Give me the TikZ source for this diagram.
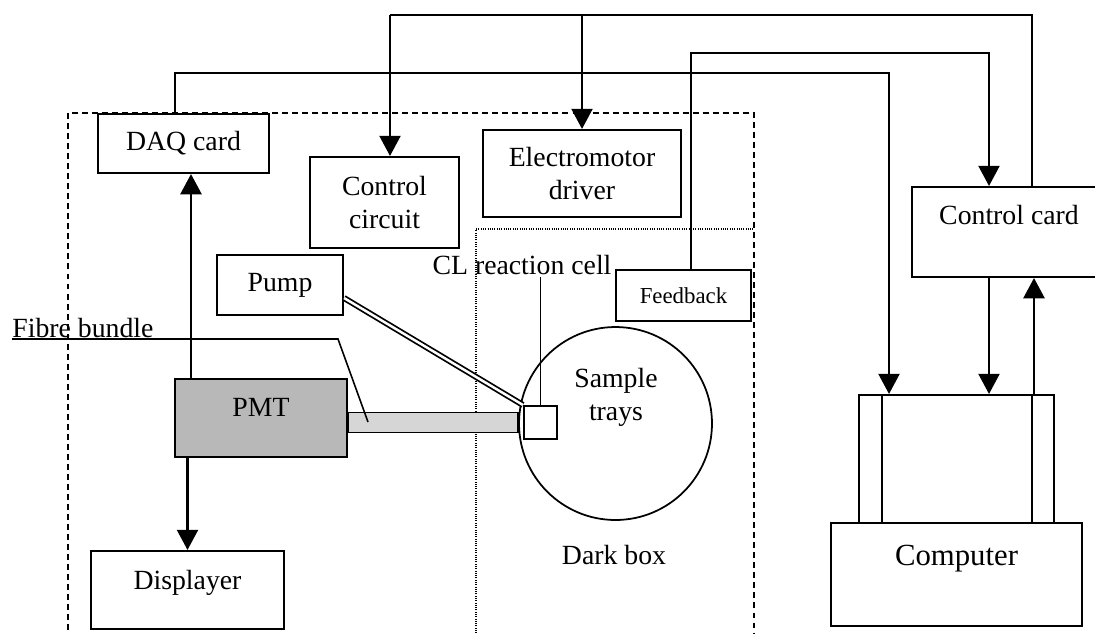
\documentclass[tikz,border=0pt]{standalone}
\usepackage{fontspec}
\setmainfont{Liberation Serif}
\usetikzlibrary{arrows.meta, positioning, calc}

\begin{document}
\begin{tikzpicture}[
    x=0.02cm, y=-0.02cm,
    box/.style={
        draw, line width=1.2pt, fill=white,
        rectangle, inner sep=0pt, align=center,
        font=\fontsize{15.8}{18.8}\selectfont,
    },
    lbl/.style={
        inner sep=1pt, align=center,
        font=\fontsize{15.8}{18.8}\selectfont,
    },
    sig/.style={line width=1.2pt, -{Triangle[length=11.5pt,width=12pt]}},
    wire/.style={line width=1.2pt},
    lead/.style={line width=0.9pt},
    tube/.style={line width=1pt, double=white, double distance=1.4pt},
    fibre/.style={draw, line width=1pt, fill=black!16},
    housing/.style={line width=1.1pt, dash pattern=on 3.4pt off 2.3pt},
    darkbox/.style={line width=0.6pt, dash pattern=on 0.5pt off 0.8pt},
]
\useasboundingbox (0,0) rectangle (1095,633);

% Enclosures
\draw[housing] (68,640) -- (68,113) -- (754,113) -- (754,640);
\draw[darkbox] (476,640) -- (476,229) -- (754,229);

% Sample trays
\node[circle, draw, line width=1pt, minimum size=3.86cm, inner sep=0pt] (tray) at (615.5,423.5) {};
\node[lbl] (traylbl) at (616,397) {Sample\\trays};
\node[lbl] (darklbl) at (614,555) {Dark box};

% Units
\node[box, minimum width=3.42cm, minimum height=1.18cm] (daq) at (183.5,143.5) {DAQ card};
\node[box, minimum width=2.98cm, minimum height=1.82cm] (circuit) at (384.5,202.5) {Control\\circuit};
\node[box, minimum width=3.96cm, minimum height=1.74cm] (motor) at (582,173.5) {Electromotor\\driver};
\node[box, minimum width=2.52cm, minimum height=1.2cm] (pump) at (280,285) {Pump};
\node[box, minimum width=2.7cm, minimum height=1.02cm, font=\fontsize{13}{15}\selectfont] (feedback) at (683.5,295.5) {Feedback};
\node[box, minimum width=3.88cm, text height=0.74cm, text depth=1.06cm] (card) at (1009,232) {Control card};
\node[box, fill=black!28, minimum width=3.44cm, text height=0.74cm, text depth=0.82cm] (pmt) at (261,418) {PMT};
\node[box, minimum width=3.86cm, text height=0.76cm, text depth=0.8cm] (displayer) at (187.5,590) {Displayer};
\node[box, minimum width=3.9cm, minimum height=2.56cm] (monitor) at (956.5,459) {};
\node[box, minimum width=5.02cm, text height=0.84cm, text depth=1.22cm, font=\fontsize{17.5}{20}\selectfont] (computer) at (956.5,574.5) {Computer};

% Fibre and tubing
\node[box, minimum size=0.66cm] (cell) at (540.5,422.5) {};
\coordinate (fibL) at (pmt.east |- cell.west);
\draw[fibre] ([yshift=0.2cm]fibL) rectangle ([xshift=-0.1cm,yshift=-0.2cm]cell.west);
\draw[tube] ([yshift=-0.26cm]pump.east) -- (cell.north west);

% Labels
\node[lbl, inner sep=0pt, anchor=base west] (fibrelbl) at (12,337) {Fibre bundle};
\coordinate (fibknee) at (338,339);
\coordinate (fibtip) at (368,422);
\draw[lead] ([yshift=-0.04cm]fibrelbl.base west) -- (fibknee) -- (fibtip);
\node[lbl] (cllbl) at (522,265) {CL reaction cell};
\draw[lead] (cell.north) -- (cell.north |- cllbl.south);

% PMT signal
\draw[sig] ([xshift=0.15cm]daq.south |- pmt.north) -- ([xshift=0.15cm]daq.south);
\draw[sig] (pmt.south -| displayer.north) -- (displayer.north);

% DAQ card to computer
\coordinate (daqbus) at (889,73);
\draw[sig] ([xshift=-0.17cm]daq.north) |- (daqbus) -- (daqbus |- monitor.north);

% Control card to circuit and driver
\coordinate (ctlbus) at (0,15);
\draw[wire] ([xshift=0.46cm]card.north) |- ([xshift=0.11cm]circuit.north |- ctlbus);
\draw[sig] ([xshift=0.11cm]circuit.north |- ctlbus) -- ([xshift=0.11cm]circuit.north);
\draw[sig] (motor.north |- ctlbus) -- (motor.north);

% Feedback to control card
\coordinate (fbbus) at (0,53);
\draw[sig] ([xshift=0.15cm]feedback.north) |- ([xshift=-0.4cm]card.north |- fbbus) -- ([xshift=-0.4cm]card.north);

% Control card and computer
\draw[sig] ([xshift=-0.4cm]card.south) -- ([xshift=-0.4cm]card.south |- monitor.north);
\draw[sig] ([xshift=0.5cm]card.south |- monitor.north) -- ([xshift=0.5cm]card.south);
\draw[wire] ([xshift=-1.49cm]monitor.north) -- ([xshift=-1.49cm]monitor.south);
\draw[wire] ([xshift=1.51cm]monitor.north) -- ([xshift=1.51cm]monitor.south);

\end{tikzpicture}
\end{document}
